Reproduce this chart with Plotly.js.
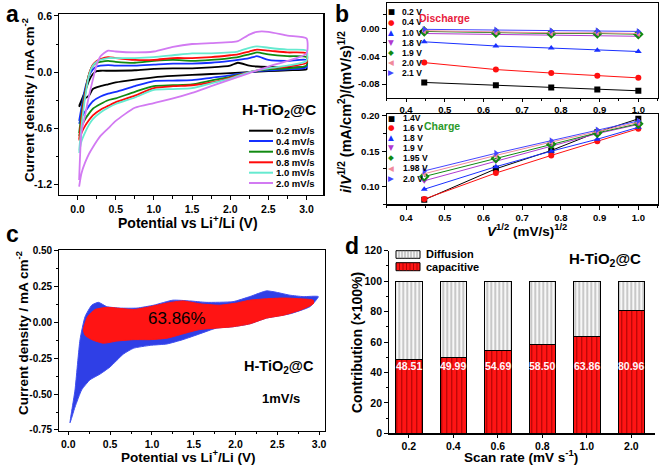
<!DOCTYPE html>
<html><head><meta charset="utf-8">
<script src="https://cdn.plot.ly/plotly-3.0.1.min.js"></script>
<style>html,body{margin:0;padding:0;background:#fff}#chart{width:661px;height:466px}</style>
</head><body><div id="chart"></div>
<script>
// ================= DATA =================
// Panel a: CV curves at different scan rates
const cvLabels = ['0.2 mV/s','0.4 mV/s','0.6 mV/s','0.8 mV/s','1.0 mV/s','2.0 mV/s'];
const anodicV   = [0.02,0.05,0.1,0.15,0.2,0.25,0.3,0.4,0.5,0.75,1.0,1.25,1.5,1.75,2.0,2.1,2.25,2.35,2.5,2.75,3.0];
const cathodicV = [3.0,2.75,2.5,2.25,2.0,1.75,1.5,1.25,1.0,0.75,0.5,0.4,0.3,0.2,0.15,0.1,0.05,0.02];
const anodic02 = [-0.36,-0.30,-0.20,-0.09,-0.02,0.01,0.015,0.015,0.015,0.02,0.035,0.04,0.04,0.05,0.07,0.10,0.07,0.06,0.055,0.05,0.05];
const cathodic02 = [0.03,0.02,0.01,0.0,-0.01,-0.02,-0.03,-0.04,-0.055,-0.08,-0.11,-0.13,-0.15,-0.18,-0.25,-0.28,-0.32,-0.37];
const anodic04 = [-0.52,-0.38,-0.17,-0.04,0.03,0.06,0.07,0.075,0.07,0.07,0.08,0.09,0.09,0.10,0.12,0.13,0.15,0.17,0.13,0.12,0.13];
const cathodic04 = [0.05,0.03,0.02,0.0,-0.035,-0.06,-0.085,-0.09,-0.095,-0.15,-0.21,-0.23,-0.26,-0.31,-0.36,-0.42,-0.48,-0.55];
const anodic06 = [-0.65,-0.45,-0.20,-0.02,0.07,0.10,0.11,0.12,0.11,0.10,0.12,0.13,0.12,0.13,0.15,0.16,0.19,0.21,0.19,0.17,0.16];
const cathodic06 = [0.07,0.04,0.03,0.0,-0.05,-0.09,-0.13,-0.14,-0.15,-0.21,-0.28,-0.30,-0.34,-0.39,-0.44,-0.50,-0.58,-0.68];
const anodic08 = [-0.72,-0.50,-0.23,-0.02,0.08,0.12,0.14,0.16,0.15,0.13,0.13,0.15,0.15,0.16,0.18,0.19,0.22,0.24,0.23,0.21,0.20];
const cathodic08 = [0.10,0.06,0.04,0.0,-0.06,-0.11,-0.14,-0.15,-0.17,-0.25,-0.32,-0.36,-0.40,-0.46,-0.51,-0.57,-0.65,-0.73];
const anodic10 = [-0.84,-0.58,-0.26,-0.03,0.07,0.11,0.13,0.15,0.15,0.15,0.16,0.18,0.20,0.20,0.21,0.22,0.26,0.275,0.26,0.24,0.23];
const cathodic10 = [0.12,0.07,0.04,0.0,-0.07,-0.12,-0.17,-0.18,-0.19,-0.27,-0.34,-0.38,-0.43,-0.50,-0.56,-0.64,-0.74,-0.86];
const anodic20 = [-1.15,-0.65,-0.45,-0.25,-0.08,0.08,0.17,0.23,0.22,0.21,0.22,0.27,0.30,0.31,0.32,0.33,0.40,0.43,0.43,0.39,0.36];
const cathodic20 = [0.20,0.12,0.06,-0.01,-0.08,-0.15,-0.22,-0.28,-0.33,-0.38,-0.52,-0.60,-0.68,-0.80,-0.87,-0.96,-1.08,-1.22];

// Panel b: i/v^1/2 vs v^1/2
const sqrtRate = [0.447,0.632,0.775,0.894,1.0];
const dischargeLabels = ['0.2 V','0.4 V','1.0 V','1.8 V','1.9 V','2.0 V','2.1 V'];
const discharge02 = [-0.0776,-0.0815,-0.0848,-0.0877,-0.0896];
const discharge04 = [-0.049,-0.059,-0.064,-0.068,-0.071];
const discharge10 = [-0.019,-0.025,-0.028,-0.031,-0.033];
const discharge18 = [-0.007,-0.008,-0.009,-0.010,-0.011];
const discharge19 = [-0.004,-0.006,-0.007,-0.007,-0.008];
const discharge20 = [-0.003,-0.005,-0.006,-0.006,-0.007];
const discharge21 = [-0.001,-0.002,-0.003,-0.003,-0.004];
const chargeLabels = ['1.4V','1.6 V','1.8 V','1.9 V','1.95 V','1.98 V','2.0 V'];
const charge140 = [0.081,0.125,0.151,0.177,0.196];
const charge160 = [0.082,0.119,0.144,0.164,0.182];
const charge180 = [0.096,0.128,0.150,0.167,0.184];
const charge190 = [0.108,0.136,0.158,0.175,0.188];
const charge195 = [0.114,0.140,0.160,0.176,0.189];
const charge198 = [0.118,0.144,0.163,0.178,0.191];
const charge200 = [0.122,0.147,0.165,0.180,0.193];

// Panel c: separated capacitive contribution at 1 mV/s
const totalV = [0.02,0.08,0.14,0.2,0.28,0.36,0.46,0.62,0.82,1.02,1.25,1.45,1.65,1.97,2.17,2.37,2.49,2.65,2.81,2.99,
                2.89,2.65,2.37,2.17,1.97,1.77,1.57,1.37,1.18,0.98,0.78,0.66,0.5,0.38,0.26,0.16,0.08,0.02];
const totalI = [-0.70,-0.47,-0.12,0.04,0.12,0.14,0.11,0.10,0.10,0.12,0.155,0.15,0.14,0.145,0.18,0.22,0.21,0.19,0.18,0.18,
                0.11,0.06,0.03,-0.01,-0.03,-0.04,-0.08,-0.12,-0.15,-0.16,-0.18,-0.22,-0.31,-0.36,-0.40,-0.47,-0.59,-0.70];
const capV = [0.18,0.23,0.32,0.46,0.78,0.98,1.18,1.37,1.57,1.81,2.01,2.17,2.37,2.57,2.77,2.93,
              2.93,2.77,2.57,2.37,2.17,1.97,1.57,1.37,1.18,0.98,0.78,0.58,0.42,0.28,0.2,0.18];
const capI = [-0.05,0.04,0.09,0.105,0.09,0.11,0.135,0.15,0.13,0.12,0.135,0.155,0.165,0.17,0.165,0.155,
              0.13,0.085,0.05,0.03,-0.01,-0.03,-0.05,-0.08,-0.11,-0.12,-0.12,-0.13,-0.145,-0.12,-0.09,-0.05];
const capPercentLabel = '63.86%';

// Panel d: contribution bars
const scanRates = ['0.2','0.4','0.6','0.8','1.0','2.0'];
const capacitive = [48.51,49.99,54.69,58.50,63.86,80.96];
const diffusion = capacitive.map(v => +(100 - v).toFixed(2));

// tick labels
const aYTicks = [-1.2,-0.6,0,0.6], aYText = ['-1.2','-0.6','0.0','0.6'];
const bTopYTicks = [-0.08,-0.04,0], bTopYText = ['-0.08','-0.04','0.00'];
const cYTicks = [-0.75,-0.5,-0.25,0,0.25,0.5], cYText = ['-0.75','-0.50','-0.25','0.00','0.25','0.50'];

// ================= STYLE / LAYOUT =================
const FONT = 'Arial, "Liberation Sans", Helvetica, sans-serif';
const W = 661, H = 466;
const PX = v => v / W, PY = v => 1 - v / H;

const cvColors = ['#000000','#1530ff','#118a11','#ff0a0a','#66ead0','#d27af2'];
const bColors = ['#000000','#ff1010','#1a30ff','#b03ad0','#108a10','#f08a9a','#4545ff'];
const bSymbols = ['square','circle','triangle-up','triangle-down','diamond','triangle-left','triangle-right'];
const bGlyphs = ['■','●','▲','▼','◆','◀','▶'];

const traces = [];
const cvA = [anodic02,anodic04,anodic06,anodic08,anodic10,anodic20];
const cvC = [cathodic02,cathodic04,cathodic06,cathodic08,cathodic10,cathodic20];
cvA.forEach((a, i) => {
  traces.push({type:'scatter', mode:'lines', x: anodicV.concat(cathodicV), y: a.concat(cvC[i]),
    line:{color:cvColors[i], width:1.8, shape:'spline', smoothing:0.6}, xaxis:'x', yaxis:'y', name:cvLabels[i], showlegend:false});
});

const dis = [discharge02,discharge04,discharge10,discharge18,discharge19,discharge20,discharge21];
dis.forEach((d, i) => {
  traces.push({type:'scatter', mode:'lines+markers', x:sqrtRate, y:d, xaxis:'x2', yaxis:'y2',
    line:{color:bColors[i], width:1}, marker:{symbol: i===4 ? 'diamond-open' : bSymbols[i], size:6, color:bColors[i], line:{width: i===4?2:0, color:bColors[i]}},
    name:dischargeLabels[i], showlegend:false});
});
const chg = [charge140,charge160,charge180,charge190,charge195,charge198,charge200];
chg.forEach((d, i) => {
  traces.push({type:'scatter', mode:'lines+markers', x:sqrtRate, y:d, xaxis:'x3', yaxis:'y3',
    line:{color:bColors[i], width:1}, marker:{symbol: i===4 ? 'diamond-open' : bSymbols[i], size:6, color:bColors[i], line:{width: i===4?2:0, color:bColors[i]}},
    name:chargeLabels[i], showlegend:false});
});

traces.push({type:'scatter', mode:'lines', x: totalV, y: totalI, fill:'toself', fillcolor:'#2f3fe6',
  line:{color:'#4050f0', width:1, shape:'spline', smoothing:0.5}, xaxis:'x4', yaxis:'y4', showlegend:false});
traces.push({type:'scatter', mode:'lines', x: capV, y: capI, fill:'toself', fillcolor:'#ff1414',
  line:{color:'#ff1414', width:1, shape:'spline', smoothing:0.5}, xaxis:'x4', yaxis:'y4', showlegend:false});

traces.push({type:'bar', x:scanRates, y:capacitive, name:'capacitive', xaxis:'x5', yaxis:'y5', width:0.6,
  marker:{color:'#ff1414', line:{color:'#000', width:1}, pattern:{shape:'|', fgcolor:'#9a0000', bgcolor:'#ff1414', size:5, solidity:0.18}},
  showlegend:false});
traces.push({type:'bar', x:scanRates, y:diffusion, name:'Diffusion', xaxis:'x5', yaxis:'y5', width:0.6,
  marker:{color:'#f2f2f2', line:{color:'#000', width:1}, pattern:{shape:'|', fgcolor:'#8a8a8a', bgcolor:'#f7f7f7', size:4, solidity:0.22}},
  showlegend:false});

const tickFont = {family:FONT, size:10.5, color:'#000', weight:'bold'};
const bTickFont = {family:FONT, size:9.5, color:'#000', weight:'bold'};
function ax(extra) {
  return Object.assign({showline:true, linecolor:'#000', linewidth:1.2, mirror:true, ticks:'outside', ticklen:4, tickwidth:1,
    tickcolor:'#000', showgrid:false, zeroline:false, tickfont:tickFont, fixedrange:true}, extra);
}

const layout = {
  width:W, height:H, margin:{l:0,r:0,t:0,b:0}, paper_bgcolor:'#fff', plot_bgcolor:'#fff',
  barmode:'stack', showlegend:false, font:{family:FONT, color:'#000'},
  xaxis: ax({domain:[PX(59.3),PX(323.3)], range:[-0.24,3.22], tick0:0, dtick:0.5, tickformat:'.1f', anchor:'y',
             minor:{dtick:0.25, ticks:'outside', ticklen:2.5, tickcolor:'#000'}}),
  yaxis: ax({domain:[PY(195),PY(14)], range:[-1.31,0.62], tickvals:aYTicks, ticktext:aYText, anchor:'x',
             minor:{dtick:0.3, tick0:0, ticks:'outside', ticklen:2.5, tickcolor:'#000'}}),
  xaxis2: ax({domain:[PX(386.7),PX(657.7)], range:[0.35,1.05], tick0:0.4, dtick:0.1, tickformat:'.1f', anchor:'y2',
             tickfont:bTickFont, ticklen:3, minor:{dtick:0.05, tick0:0.4, ticks:'outside', ticklen:2, tickcolor:'#000'}}),
  yaxis2: ax({domain:[PY(97.7),PY(3)], range:[-0.0996,0.037], tickvals:bTopYTicks, ticktext:bTopYText, anchor:'x2',
             tickfont:bTickFont, minor:{dtick:0.02, tick0:0, ticks:'outside', ticklen:2.5, tickcolor:'#000'}}),
  xaxis3: ax({domain:[PX(386.7),PX(657.7)], range:[0.35,1.05], tick0:0.4, dtick:0.1, tickformat:'.1f', anchor:'y3',
             tickfont:bTickFont, minor:{dtick:0.05, tick0:0.4, ticks:'outside', ticklen:2.5, tickcolor:'#000'}}),
  yaxis3: ax({domain:[PY(204.3),PY(114.3)], range:[0.0746,0.2024], tick0:0.1, dtick:0.05, tickformat:'.2f', anchor:'x3',
             tickfont:bTickFont, minor:{dtick:0.025, tick0:0.1, ticks:'outside', ticklen:2.5, tickcolor:'#000'}}),
  xaxis4: ax({domain:[PX(59.3),PX(325)], range:[-0.108,3.07], tick0:0, dtick:0.5, tickformat:'.1f', anchor:'y4', ticklen:3,
             minor:{dtick:0.25, ticks:'outside', ticklen:2, tickcolor:'#000'}}),
  yaxis4: ax({domain:[PY(430.7),PY(250)], range:[-0.755,0.505], tickvals:cYTicks, ticktext:cYText, anchor:'x4',
             tickfont:Object.assign({}, tickFont, {size:10}), minor:{dtick:0.125, tick0:0, ticks:'outside', ticklen:2.5, tickcolor:'#000'}}),
  xaxis5: ax({domain:[PX(389.3),PX(655)], range:[-0.44,5.53], type:'category', mirror:false, anchor:'y5', ticklen:3}),
  yaxis5: ax({domain:[PY(433.3),PY(250.7)], range:[0,120], dtick:20, mirror:false, anchor:'x5',
             minor:{dtick:10, ticks:'outside', ticklen:2.5, tickcolor:'#000'}}),
  annotations:[], shapes:[]
};

function ann(text, x, y, o) {
  layout.annotations.push(Object.assign({text, x:PX(x), y:PY(y), xref:'paper', yref:'paper', showarrow:false,
    xanchor:'center', yanchor:'middle', font:{family:FONT, size:14, color:'#000', weight:'bold'}}, o || {}));
}
const bold = (s, c) => ({family:FONT, size:s, color:c || '#000', weight:'bold'});

// panel letters
ann('a', 12, 0, {font:bold(23), yanchor:'top', borderpad:0});
ann('b', 342, 0, {font:bold(23), yanchor:'top', borderpad:0});
ann('c', 12, 234, {font:bold(23)});
ann('d', 352, 246, {font:bold(23)});

// panel a texts
ann('Potential vs Li<sup>+</sup>/Li (V)', 188, 222, {font:bold(14)});
ann('Current density / mA cm<sup>-2</sup>', 28, 100, {font:bold(13.5), textangle:-90});
ann('H-TiO<sub>2</sub>@C', 279, 110, {font:bold(15.5)});
const legA_y = [130.7,141,151.7,162.3,172.7,183];
cvLabels.forEach((l, i) => {
  layout.shapes.push({type:'line', xref:'paper', yref:'paper', x0:PX(249), x1:PX(273), y0:PY(legA_y[i]), y1:PY(legA_y[i]),
    line:{color:cvColors[i], width:2}});
  ann(l, 274, legA_y[i], {xanchor:'left', font:bold(9.5)});
});

// panel b texts
const legB1_y = [11.7,22.3,33,43,53,63,72.7];
const legB2_y = [118,127.8,137.6,147.8,158,168.3,178.5];
dischargeLabels.forEach((l, i) => {
  ann(bGlyphs[i], 391, legB1_y[i], {font:{family:'DejaVu Sans', size:7.5, color:bColors[i]}});
  ann(l, 399.5, legB1_y[i], {xanchor:'left', font:bold(8.5)});
});
chargeLabels.forEach((l, i) => {
  ann(bGlyphs[i], 391, legB2_y[i], {font:{family:'DejaVu Sans', size:7.5, color:bColors[i]}});
  ann(l, 400.5, legB2_y[i], {xanchor:'left', font:bold(8.5)});
});
ann('Discharge', 444, 17.5, {font:bold(10.5, '#e8203c')});
ann('Charge', 442, 126, {font:bold(10.5, '#2a9a2a')});
ann('<i>i</i>/<i>V</i><sup>1/2</sup> (mA/cm<sup>2</sup>)/(mV/s)<sup>1/2</sup>', 345, 112, {font:bold(14.5), textangle:-90});
ann('<i>V</i><sup>1/2</sup> (mV/s)<sup>1/2</sup>', 527, 230, {font:bold(13.5)});

// panel c texts
ann(capPercentLabel, 176.7, 318, {font:{family:FONT, size:17, color:'#000'}});
ann('H-TiO<sub>2</sub>@C', 279, 367, {font:bold(14.5)});
ann('1mV/s', 281, 398, {font:bold(13)});
ann('Current density / mA cm<sup>-2</sup>', 22, 333, {font:bold(13.5), textangle:-90});
ann('Potential vs Li<sup>+</sup>/Li (V)', 188, 456, {font:bold(13.5)});

// panel d texts
ann('Contribution (×100%)', 357, 342, {font:bold(14), textangle:-90});
ann('Scan rate (mV s<sup>-1</sup>)', 521, 466, {font:bold(13.5), yanchor:'bottom', borderpad:0});
ann('H-TiO<sub>2</sub>@C', 605, 259, {font:bold(15)});
const barLabelY = 44;
capacitive.forEach((v, i) => {
  layout.annotations.push({text:v.toFixed(2), x:i, y:barLabelY, xref:'x5', yref:'y5', showarrow:false,
    xanchor:'center', yanchor:'middle', font:{family:FONT, size:10.5, color:'#fff4fa', weight:'bold'}});
});
// d legend swatches
function swatch(x0, x1, y0, y1, bg, fg, step) {
  layout.shapes.push({type:'rect', xref:'paper', yref:'paper', x0:PX(x0), x1:PX(x1), y0:PY(y1), y1:PY(y0),
    fillcolor:bg, line:{color:'#000', width:1}});
  for (let x = x0 + step; x < x1 - 0.5; x += step) {
    layout.shapes.push({type:'line', xref:'paper', yref:'paper', x0:PX(x), x1:PX(x), y0:PY(y1), y1:PY(y0), line:{color:fg, width:0.8}});
  }
}
swatch(396, 420, 250.7, 258.3, '#f5f5f5', '#8a8a8a', 3);
swatch(396, 420, 262.7, 270.7, '#ff1414', '#9a0000', 3.5);
ann('Diffusion', 423.5, 254.3, {xanchor:'left', font:bold(11)});
ann('capacitive', 423.5, 266.8, {xanchor:'left', font:bold(11)});

Plotly.newPlot('chart', traces, layout, {staticPlot:true, displayModeBar:false});
</script></body></html>
